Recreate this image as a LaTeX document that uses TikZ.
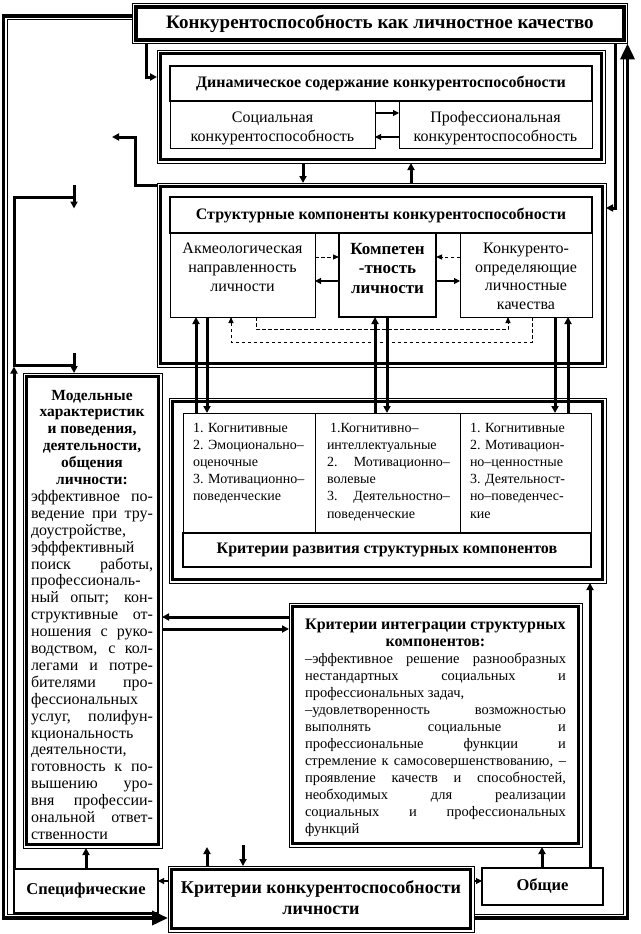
\documentclass[tikz,border=0pt]{standalone}
\usepackage{fontspec}
\setmainfont{Liberation Serif}
\usetikzlibrary{arrows.meta}
\hbadness=10000 \hfuzz=60pt \vbadness=10000 \vfuzz=60pt
\newcommand\fs[2]{\fontsize{#1pt}{#2pt}\selectfont}
\newcommand\myC[1]{\hbox to \hsize{\hfil #1\hfil}}
\newcommand\myL[1]{\hbox to \hsize{#1\hfil}}
\newcommand\myJ[1]{\hbox to \hsize{#1}}
\newcommand\blk[3]{\vtop{\hsize=#1pt\baselineskip=#2pt\lineskiplimit=-\maxdimen\lineskip=0pt #3}}
\newcommand\bx[7][thinbox]{\node[#1,minimum width={#5-#3},minimum height={#6-#4}] (#2) at ({(#3+#5)/2},{(#4+#6)/2}) {#7};}
\begin{document}
\begin{tikzpicture}[x=1pt,y=-1pt,line join=miter,
  thinbox/.style={draw,line width=0.9pt,inner sep=0pt,outer sep=0pt},
  thickbox/.style={draw,line width=3.4pt,inner sep=0pt,outer sep=0pt},
  headbox/.style={draw,line width=2.8pt,inner sep=0pt,outer sep=0pt},
  txt/.style={inner sep=0pt,outer sep=0pt},
  conn/.style={line width=3pt,-{Triangle[length=7pt,width=7pt]}},
  lconn/.style={line width=1.1pt,-{Triangle[length=6pt,width=6pt]}},
  dconn/.style={line width=0.9pt,dash pattern=on 3.5pt off 2.5pt,-{Triangle[length=6pt,width=5pt]}},
  bigloop/.style={line width=3.6pt},
  thinloop/.style={line width=1pt},
  bigtip/.style={-{Triangle[length=16pt,width=14pt]}}]
\fill[white] (0,0) rectangle (640,934);
\useasboundingbox (0,0) rectangle (640,934);

% ---------- top box
\bx{topo}{132.5}{3.5}{627.5}{43.5}{}
\bx[thickbox,font=\bfseries\fs{19}{22}]{top}{136}{7}{624}{40}{Конкурентоспособность как личностное качество}

% ---------- dynamic content
\bx{dyno}{157}{50}{605}{163}{}
\bx[thickbox]{dyn}{160.5}{53.5}{601.5}{159.5}{}
\bx{soc}{170}{101}{375}{148}{}
\bx{prof}{399}{101}{592}{148}{}
\bx[headbox,font=\bfseries\fs{16}{18}]{dynh}{170}{66}{592}{101}{Динамическое содержание конкурентоспособности}
\node[txt,anchor=base,font=\fs{16}{19}] (soct) at (272.5,122) {\blk{200}{19}{\myC{Социальная}\myC{конкурентоспособность}}};
\node[txt,anchor=base,font=\fs{16}{19}] (proft) at (495.5,122) {\blk{190}{19}{\myC{Профессиональная}\myC{конкурентоспособность}}};

% ---------- structural components
\bx{stro}{157}{183}{606}{367}{}
\bx[thickbox]{str}{160.5}{186.5}{602.5}{363.5}{}
\bx{akm}{170}{233}{315}{317}{}
\bx{konk}{460}{233}{592}{317}{}
\bx[headbox]{comp}{339}{233}{436}{317}{}
\bx[headbox,font=\bfseries\fs{16}{18}]{strh}{170}{197}{592}{233}{Структурные компоненты конкурентоспособности}
\node[txt,anchor=base,font=\fs{16}{19}] (akmt) at (242.5,253.5) {\blk{140}{19}{\myC{Акмеологическая}\myC{направленность}\myC{личности}}};
\node[txt,anchor=base,font=\bfseries\fs{17}{19.5}] (compt) at (387.5,254) {\blk{92}{19.5}{\myC{Компетен}\myC{-тность}\myC{личности}}};
\node[txt,anchor=base,font=\fs{16}{18.6}] (konkt) at (526,253.5) {\blk{128}{18.6}{\myC{Конкуренто-}\myC{определяющие}\myC{личностные}\myC{качества}}};

% ---------- development criteria
\bx{devo}{169}{398}{606}{583}{}
\bx[thickbox]{dev}{172.5}{401.5}{602.5}{579.5}{}
\bx{c1}{183}{413}{315}{533}{}
\bx{c2}{315}{413}{460}{533}{}
\bx{c3}{460}{413}{591}{533}{}
\bx[headbox,font=\bfseries\fs{16}{18}]{devh}{183}{533}{591}{567}{Критерии развития структурных компонентов}
\node[txt,anchor=base west,font=\fs{14}{17.2}] (c1t) at (193,432) {\blk{120}{17.2}{\myL{1. Когнитивные}\myL{2. Эмоционально–}\myL{оценочные}\myL{3. Мотивационно–}\myL{поведенческие}}};
\node[txt,anchor=base west,font=\fs{14}{17.2}] (c2t) at (327,432) {\blk{123}{17.2}{\myL{\hspace{3pt}1.Когнитивно–}\myL{интеллектуальные}\myJ{2. Мотивационно–}\myL{волевые}\myJ{3. Деятельностно–}\myL{поведенческие}}};
\node[txt,anchor=base west,font=\fs{14}{17.2}] (c3t) at (470,432) {\blk{115}{17.2}{\myL{1. Когнитивные}\myL{2. Мотивацион-}\myL{но–ценностные}\myL{3. Деятельност-}\myL{но–поведенчес-}\myL{кие}}};

% ---------- model characteristics
\bx{modelo}{23}{373}{162}{848}{}
\bx[thickbox]{model}{26.5}{376.5}{158.5}{844.5}{}
\node[txt,anchor=base west,font=\fs{16}{16.9}] (modelt) at (31,400) {\blk{122}{16.9}{%
\myC{\bfseries\fs{15.5}{16.9}Модельные}%
\myC{\bfseries\fs{15.5}{16.9}характеристик}%
\myC{\bfseries\fs{15.5}{16.9}и поведения,}%
\myC{\bfseries\fs{15.5}{16.9}деятельности,}%
\myC{\bfseries\fs{15.5}{16.9}общения}%
\myC{\bfseries\fs{15.5}{16.9}личности:}%
\myJ{эффективное по-}%
\myJ{ведение при тру-}%
\myL{доустройстве,}%
\myL{эфффективный}%
\myJ{поиск работы,}%
\myL{профессиональ-}%
\myJ{ный опыт; кон-}%
\myJ{структивные от-}%
\myJ{ношения с руко-}%
\myJ{водством, с кол-}%
\myJ{легами и потре-}%
\myJ{бителями про-}%
\myL{фессиональных}%
\myJ{услуг, полифун-}%
\myL{кциональность}%
\myL{деятельности,}%
\myJ{готовность к по-}%
\myJ{вышению уро-}%
\myJ{вня профессии-}%
\myJ{ональной ответ-}%
\myL{ственности}}};

% ---------- integration criteria
\bx{intego}{289}{603}{582}{847}{}
\bx[thickbox]{integ}{292.5}{606.5}{578.5}{843.5}{}
\node[txt,anchor=base west,font=\fs{14.5}{17}] (integt) at (305,629) {\blk{261}{17}{%
\myC{\bfseries\fs{16}{17}Критерии интеграции структурных}%
\myC{\bfseries\fs{16}{17}компонентов:}%
\myJ{–эффективное решение разнообразных}%
\myJ{нестандартных социальных и}%
\myL{профессиональных задач,}%
\myJ{–удовлетворенность возможностью}%
\myJ{выполнять социальные и}%
\myJ{профессиональные функции и}%
\myJ{стремление к самосовершенствованию, –}%
\myJ{проявление качеств и способностей,}%
\myJ{необходимых для реализации}%
\myJ{социальных и профессиональных}%
\myL{функций}}};

% ---------- bottom row
\bx{crito}{168}{866}{474}{932}{}
\bx[thickbox]{crit}{171.5}{869.5}{470.5}{928.5}{}
\node[txt,anchor=base,font=\bfseries\fs{18}{21}] (critt) at (321,893) {\blk{290}{21}{\myC{Критерии конкурентоспособности}\myC{личности}}};
\bx[headbox,font=\bfseries\fs{16.5}{19}]{spec}{14}{869}{158}{913}{Специфические}
\bx[headbox,font=\bfseries\fs{16.5}{19}]{gen}{482}{868}{603}{905}{Общие}

% ---------- big loops
\draw[bigloop,bigtip] (topo.west |- 0,16) -- (3.5,16) -- (3.5,918) -- (crito.west |- 0,918);
\draw[thinloop] (topo.west |- 0,20) -- (7.5,20) -- (7.5,914) -- (153,914);
\draw[bigloop,bigtip] (crito.east |- 0,918) -- (627.5,918) -- (627.5,0 |- topo.south);
\draw[thinloop] (crito.east |- 0,914.5) -- (623.5,914.5) -- (623.5,59);

% ---------- connectors top part
\draw[conn] (146,0 |- topo.south) -- (146,77) -- (dyno.west |- 0,77);
\draw[conn] (615,0 |- topo.south) -- (615,208) -- (stro.east |- 0,208);
\draw[conn] (303,0 |- dyno.south) -- (303,0 |- stro.north);
\draw[conn] (411,0 |- stro.north) -- (411,0 |- dyno.south);
\coordinate (dang) at (112,137);
\draw[conn] (stro.west |- 0,185) -- (135,185) -- (135,137) -- (dang);
\draw[lconn] (soc.east |- 0,113) -- (prof.west |- 0,113);
\draw[lconn] (prof.west |- 0,137) -- (soc.east |- 0,137);

% ---------- inside structural
\draw[dconn] (akm.east |- 0,257) -- (comp.west |- 0,257);
\draw[dconn] (konk.west |- 0,257) -- (comp.east |- 0,257);
\draw[lconn] (comp.west |- 0,281) -- (akm.east |- 0,281);
\draw[lconn] (comp.east |- 0,281) -- (konk.west |- 0,281);
\draw[dconn] (256,0 |- akm.south) -- (256,329) -- (508,329) -- (508,0 |- konk.south);
\draw[dconn] (532,0 |- konk.south) -- (532,342) -- (231,342) -- (231,0 |- akm.south);

% ---------- structural <-> development
\draw[conn] (196,0 |- c1.north) -- (196,0 |- akm.south);
\draw[conn] (207,0 |- akm.south) -- (207,0 |- c1.north);
\draw[conn] (375,0 |- c2.north) -- (375,0 |- comp.south);
\draw[conn] (387,0 |- comp.south) -- (387,0 |- c2.north);
\draw[conn] (555,0 |- konk.south) -- (555,0 |- c3.north);
\draw[conn] (568,0 |- c3.north) -- (568,0 |- konk.south);

% ---------- left bracket
\coordinate (brtop) at (74,185);
\coordinate (brtopend) at (74,208.5);
\coordinate (brbot) at (74,353);
\draw[conn] (brtop) -- (brtopend);
\draw[conn] (brbot) -- (74,0 |- modelo.north);
\draw[line width=3pt] (74,197) -- (14,197) -- (14,365) -- (74,365);
\draw[conn] (spec.north west) -- (14,366.5);

% ---------- model <-> integration
\draw[conn] (intego.west |- 0,617) -- (modelo.east |- 0,617);
\draw[conn] (modelo.east |- 0,629) -- (intego.west |- 0,629);

% ---------- bottom connectors
\draw[conn] (86,0 |- spec.north) -- (86,0 |- modelo.south);
\draw[lconn] (crito.west |- 0,881) -- (spec.east |- 0,881);
\draw[lconn] (crito.east |- 0,881) -- (gen.west |- 0,881);
\coordinate (critup) at (207,847);
\coordinate (critdown) at (243,845);
\draw[conn] (207,0 |- crito.north) -- (critup);
\draw[conn] (critdown) -- (243,0 |- crito.north);
\draw[conn] (542,0 |- gen.north) -- (542,0 |- intego.south);
\draw[conn] (590,0 |- gen.north) -- (590,0 |- devo.south);
\end{tikzpicture}
\end{document}
